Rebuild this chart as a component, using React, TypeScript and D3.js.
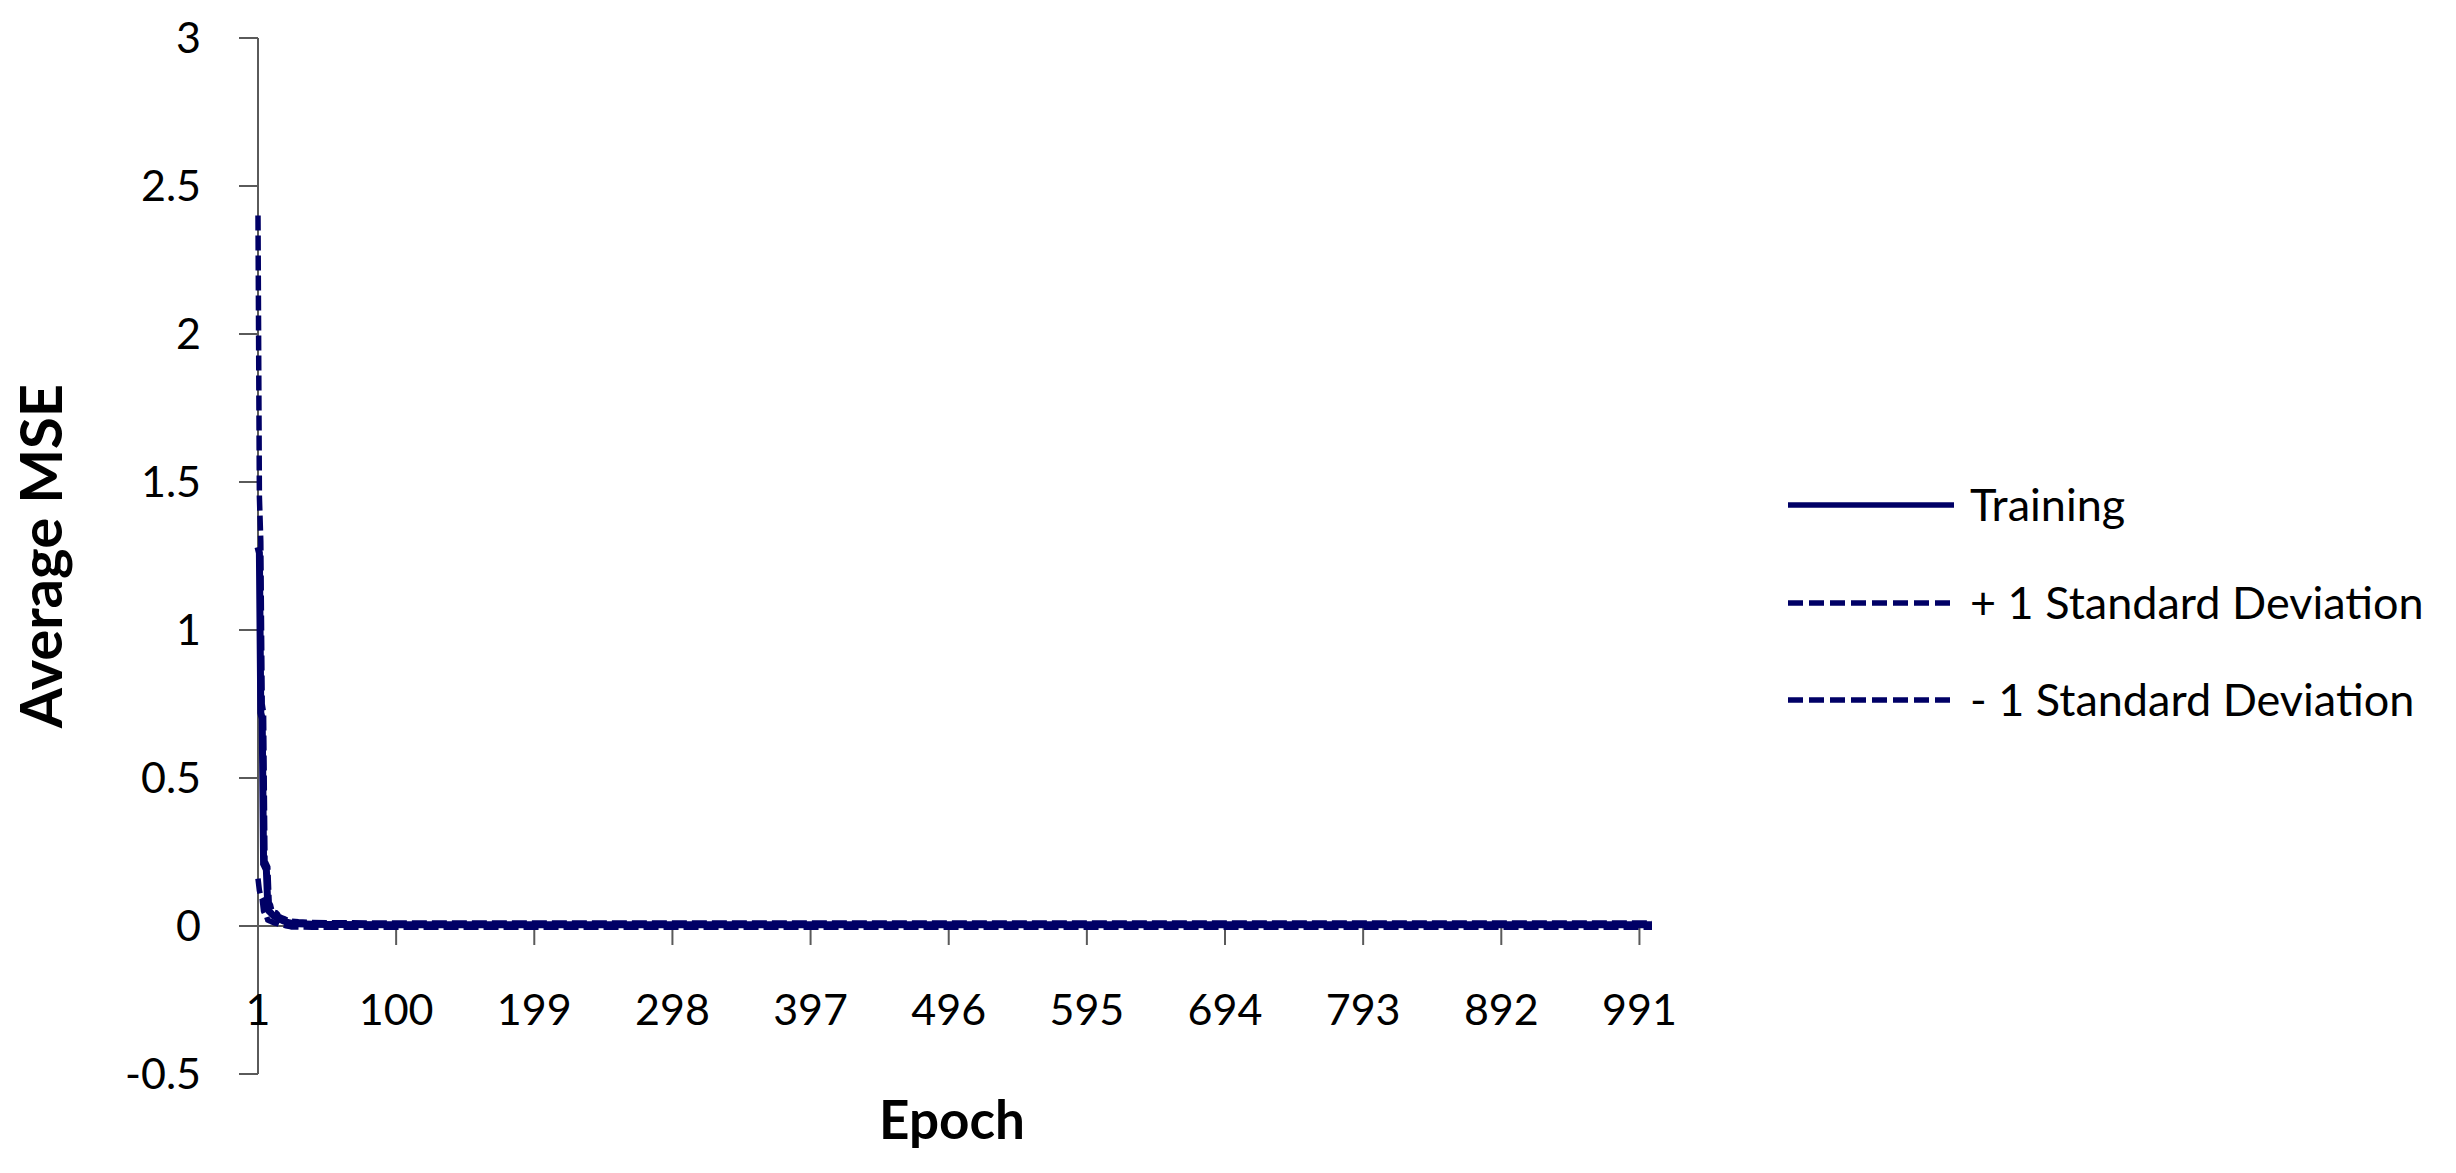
import React from 'react';
import * as d3 from 'd3';

// ---- data ----
const epochs = [1, 2, 3, 4, 5, 6, 7, 8, 9, 10, 11, 12, 13, 14, 15, 16, 17, 18, 19, 20, 21, 22, 23, 24, 25, 30, 40, 50, 100, 200, 300, 400, 500, 600, 700, 800, 900, 1000];
const training = [1.28, 1.26, 0.72, 0.7, 0.21, 0.2, 0.19, 0.07, 0.05, 0.045, 0.04, 0.035, 0.032, 0.03, 0.026, 0.024, 0.022, 0.02, 0.018, 0.016, 0.014, 0.012, 0.011, 0.01, 0.009, 0.008, 0.006, 0.005, 0.004, 0.004, 0.004, 0.004, 0.004, 0.004, 0.004, 0.004, 0.004, 0.004];
const plusSD = [2.4, 1.45, 1.3, 0.75, 0.72, 0.22, 0.21, 0.2, 0.08, 0.07, 0.05, 0.048, 0.046, 0.045, 0.04, 0.032, 0.03, 0.028, 0.026, 0.024, 0.022, 0.02, 0.018, 0.017, 0.016, 0.014, 0.012, 0.011, 0.01, 0.01, 0.01, 0.01, 0.01, 0.01, 0.01, 0.01, 0.01, 0.01];
const minusSD = [0.16, 0.12, 0.1, 0.09, 0.05, 0.04, 0.035, 0.02, 0.018, 0.016, 0.014, 0.012, 0.01, 0.009, 0.008, 0.006, 0.005, 0.004, 0.003, 0.002, 0.001, 0.0, -0.001, -0.002, -0.003, -0.003, -0.004, -0.004, -0.004, -0.004, -0.004, -0.004, -0.004, -0.004, -0.004, -0.004, -0.004, -0.004];

const yTicks = [-0.5, 0, 0.5, 1, 1.5, 2, 2.5, 3];
const xTickEpochs = [1, 100, 199, 298, 397, 496, 595, 694, 793, 892, 991];
const legendLabels = ['Training', '+ 1 Standard Deviation', '- 1 Standard Deviation'];
const xTitle = 'Epoch';
const yTitle = 'Average MSE';

const W = 2456;
const H = 1173;
const NAVY = '#000066';
const AXIS = '#5a5a5a';
const FONT = "Lato, 'Open Sans', sans-serif";

export default function App() {
  const x = d3.scaleLinear().domain([1, 1000]).range([258, 1652]);
  const y = d3.scaleLinear().domain([-0.5, 3]).range([1074, 38]);

  const mk = (vals: number[]) =>
    d3
      .line<number>()
      .x((_, i) => x(epochs[i]))
      .y((d) => y(d))(vals) || '';

  const series = [
    { vals: minusSD, dash: '15 5', w: 5.5 },
    { vals: plusSD, dash: '15 5', w: 5.5 },
    { vals: training, dash: undefined, w: 7 },
  ];

  const y0 = y(0);
  const legendY = [505, 603, 700];

  return (
    <svg
      width={W}
      height={H}
      viewBox={`0 0 ${W} ${H}`}
      style={{ position: 'absolute', left: 0, top: 0, background: '#fff' }}
      fontFamily={FONT}
    >
      <rect x={0} y={0} width={W} height={H} fill="#fff" />
      {/* y axis */}
      <line x1={x(1)} x2={x(1)} y1={y(3)} y2={y(-0.5)} stroke={AXIS} strokeWidth={2} />
      {yTicks.map((t) => (
        <g key={'yt' + t}>
          <line x1={x(1) - 19} x2={x(1)} y1={y(t)} y2={y(t)} stroke={AXIS} strokeWidth={2} />
          <text x={201} y={y(t) + 15} textAnchor="end" fontSize={43} fill="#000">
            {t}
          </text>
        </g>
      ))}
      {/* x axis at y=0 */}
      <line x1={x(1)} x2={x(1000)} y1={y0} y2={y0} stroke={AXIS} strokeWidth={2} />
      {xTickEpochs.map((e) => (
        <g key={'xt' + e}>
          <line x1={x(e)} x2={x(e)} y1={y0} y2={y0 + 19} stroke={AXIS} strokeWidth={2} />
          <text x={x(e)} y={1025} textAnchor="middle" fontSize={43} fill="#000">
            {e}
          </text>
        </g>
      ))}
      {/* series */}
      {series.map((s, i) => (
        <path
          key={'s' + i}
          d={mk(s.vals)}
          fill="none"
          stroke={NAVY}
          strokeWidth={s.w}
          strokeDasharray={s.dash}
          strokeLinejoin="miter"
        />
      ))}
      {/* titles */}
      <text x={952} y={1139} textAnchor="middle" fontSize={53} fontWeight="bold" fill="#000">
        {xTitle}
      </text>
      <text
        transform={`translate(62,556) rotate(-90)`}
        textAnchor="middle"
        fontSize={58}
        fontWeight="bold"
        fill="#000"
      >
        {yTitle}
      </text>
      {/* legend */}
      {legendLabels.map((l, i) => (
        <g key={'lg' + i}>
          <line
            x1={1788}
            x2={1954}
            y1={legendY[i]}
            y2={legendY[i]}
            stroke={NAVY}
            strokeWidth={5.5}
            strokeDasharray={i === 0 ? undefined : '15 6'}
          />
          <text x={1970} y={legendY[i] + 16} fontSize={45} fill="#000">
            {l}
          </text>
        </g>
      ))}
    </svg>
  );
}
